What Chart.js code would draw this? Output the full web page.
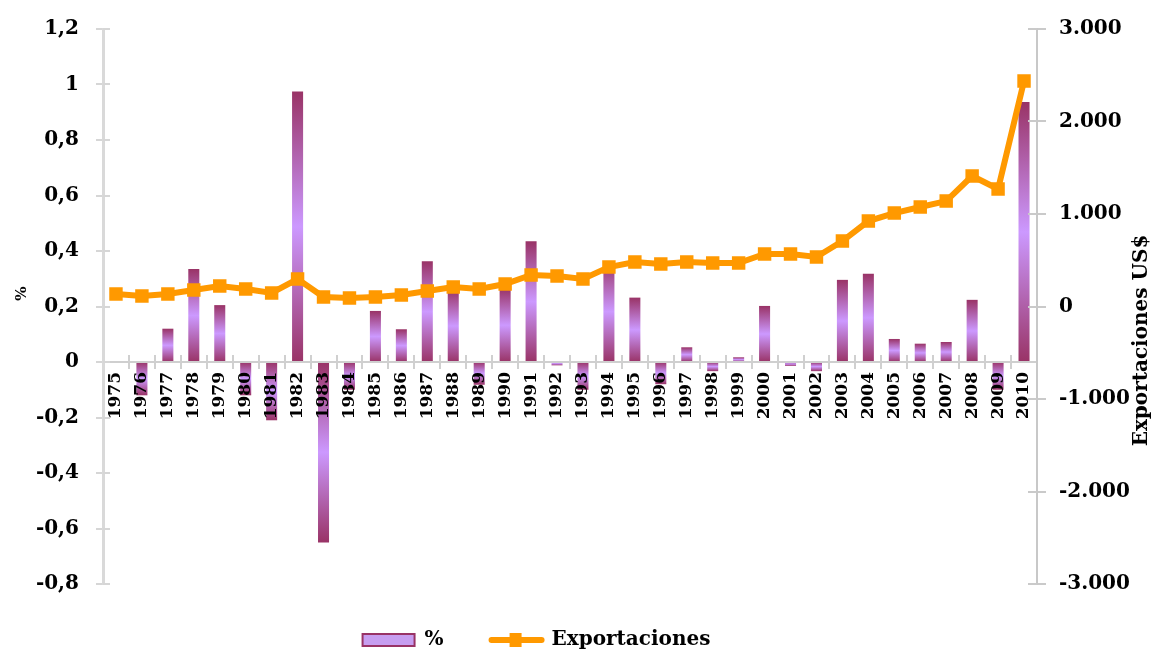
<!DOCTYPE html>
<html>
<head>
<meta charset="utf-8">
<script src="https://cdn.jsdelivr.net/npm/chart.js@4.4.1/dist/chart.umd.min.js"></script>
<style>
html,body{margin:0;padding:0;background:#ffffff;}
#wrap{width:1156px;height:653px;position:relative;}
</style>
</head>
<body>
<div id="wrap"><canvas id="c" width="1156" height="653"></canvas></div>
<script>
const years = ['1975','1976','1977','1978','1979','1980','1981','1982','1983','1984','1985','1986','1987','1988','1989','1990','1991','1992','1993','1994','1995','1996','1997','1998','1999','2000','2001','2002','2003','2004','2005','2006','2007','2008','2009','2010'];
const pctValues = [null,-0.12,0.12,0.335,0.205,-0.12,-0.21,0.975,-0.65,-0.10,0.184,0.118,0.363,0.26,-0.082,0.265,0.435,-0.012,-0.10,0.363,0.232,-0.08,0.053,-0.033,0.017,0.202,-0.014,-0.033,0.296,0.318,0.083,0.066,0.072,0.224,-0.10,0.937];
const exportValues = [135,114,135,178,222,189,146,297,103,92,103,124,168,211,189,243,341,330,297,427,481,459,481,470,470,568,568,535,708,924,1010,1076,1140,1411,1270,2438];
const leftTickLabels = ['-0,8','-0,6','-0,4','-0,2','0','0,2','0,4','0,6','0,8','1','1,2'];
const rightTickLabels = ['-3.000','-2.000','-1.000','0','1.000','2.000','3.000'];
const seriesNames = ['%','Exportaciones'];
const leftTitle = '%';
const rightTitle = 'Exportaciones US$';

const FONT = '"DejaVu Serif", "Liberation Serif", serif';
const DARK = '#993366', LIGHT = '#cc99ff', ORANGE = '#ff9900';

function barFill(ctx) {
  const chart = ctx.chart;
  const ys = chart.scales && chart.scales.y;
  if (ctx.type !== 'data' || !ys || ctx.raw == null) return '#c39ae6';
  const a = ys.getPixelForValue(0), b = ys.getPixelForValue(ctx.raw);
  const top = Math.min(a, b), bot = Math.max(a, b);
  if (!isFinite(top) || bot - top < 2) return '#b47ccf';
  const g = chart.ctx.createLinearGradient(0, top, 0, bot);
  g.addColorStop(0, DARK);
  g.addColorStop(0.5, LIGHT);
  g.addColorStop(1, DARK);
  return g;
}

const legendShift = {
  id: 'legendShift',
  afterLayout(chart) {
    if (chart.legend) { chart.legend.right -= 83; }
  }
};

const crossTicks = {
  id: 'crossTicks',
  afterDraw(chart) {
    const {ctx, chartArea, scales} = chart;
    const x = scales.x, y = scales.y, y1 = scales.y1;
    ctx.save();
    ctx.lineWidth = 2;
    ctx.strokeStyle = '#d6d6d6';
    y.ticks.forEach(t => {
      const py = Math.round(y.getPixelForValue(t.value));
      ctx.beginPath(); ctx.moveTo(chartArea.left, py); ctx.lineTo(chartArea.left + 7, py); ctx.stroke();
    });
    ctx.strokeStyle = '#cacaca';
    y1.ticks.forEach(t => {
      const py = Math.round(y1.getPixelForValue(t.value));
      ctx.beginPath(); ctx.moveTo(chartArea.right - 9, py); ctx.lineTo(chartArea.right, py); ctx.stroke();
    });
    ctx.strokeStyle = '#d0d0d0';
    const zy = y.getPixelForValue(0);
    for (let i = 1; i < years.length; i++) {
      const px = Math.round(x.getPixelForValue(i - 0.5));
      ctx.beginPath(); ctx.moveTo(px, zy - 7); ctx.lineTo(px, zy); ctx.stroke();
    }
    ctx.restore();
  }
};

const titlesAndLegend = {
  id: 'titlesAndLegend',
  afterDraw(chart) {
    const c = chart.ctx;
    const ca = chart.chartArea;
    c.save();
    c.fillStyle = '#000';
    c.textAlign = 'center';
    c.textBaseline = 'middle';
    c.font = 'bold 15px ' + FONT;
    c.save(); c.translate(22, (ca.top + ca.bottom) / 2 - 13); c.rotate(-Math.PI / 2); c.fillText(leftTitle, 0, 0); c.restore();
    c.font = 'bold 20px ' + FONT;
    c.save(); c.translate(1142, (ca.top + ca.bottom) / 2 + 34); c.rotate(-Math.PI / 2); c.fillText(rightTitle, 0, 0); c.restore();
    const lg = chart.legend;
    if (lg && lg.legendHitBoxes && lg.legendHitBoxes[1]) {
      const hb = lg.legendHitBoxes[1];
      const bw = lg.options.labels.boxWidth;
      const cy = hb.top + hb.height / 2;
      c.strokeStyle = ORANGE; c.lineWidth = 6; c.lineCap = 'round';
      c.beginPath(); c.moveTo(hb.left + 2, cy); c.lineTo(hb.left + bw, cy); c.stroke();
      c.fillStyle = ORANGE;
      c.fillRect(hb.left + bw / 2 - 6, cy - 7, 12, 14);
    }
    c.restore();
  }
};

new Chart(document.getElementById('c'), {
  data: {
    labels: years,
    datasets: [
      {
        type: 'bar',
        label: seriesNames[0],
        data: pctValues,
        yAxisID: 'y',
        backgroundColor: barFill,
        borderWidth: 0,
        categoryPercentage: 0.5,
        barPercentage: 0.85,
        order: 2
      },
      {
        type: 'line',
        label: seriesNames[1],
        data: exportValues,
        yAxisID: 'y1',
        borderColor: ORANGE,
        backgroundColor: ORANGE,
        borderWidth: 6,
        tension: 0,
        pointStyle: 'rect',
        pointRadius: 9.5,
        pointBackgroundColor: ORANGE,
        pointBorderWidth: 0,
        order: 1
      }
    ]
  },
  options: {
    responsive: false,
    animation: false,
    devicePixelRatio: 1,
    layout: { padding: { top: 29, right: 0, bottom: 0, left: 0 } },
    plugins: {
      tooltip: { enabled: false },
      legend: {
        position: 'bottom',
        maxHeight: 69,
        labels: {
          font: { family: FONT, size: 20, weight: 'bold' },
          color: '#000',
          boxWidth: 52,
          boxHeight: 12,
          padding: 46,
          generateLabels: () => [
            { text: seriesNames[0], fillStyle: '#c79ef0', strokeStyle: DARK, lineWidth: 2, hidden: false, datasetIndex: 0, fontColor: '#000' },
            { text: seriesNames[1], fillStyle: 'rgba(0,0,0,0)', strokeStyle: 'rgba(0,0,0,0)', lineWidth: 0, hidden: false, datasetIndex: 1, fontColor: '#000' }
          ]
        }
      }
    },
    scales: {
      x: {
        type: 'category',
        position: { y: 0 },
        offset: true,
        afterFit: s => { s.height = 0; },
        grid: { display: true, drawOnChartArea: false, drawTicks: true, tickLength: 6, color: '#d0d0d0', lineWidth: 2, offset: true },
        border: { display: true, color: '#cfcfcf', width: 2 },
        ticks: {
          z: 1,
          autoSkip: false,
          minRotation: 90,
          maxRotation: 90,
          padding: 4,
          color: '#000',
          font: { family: FONT, size: 17, weight: 'bold' }
        }
      },
      y: {
        type: 'linear',
        position: 'left',
        min: -0.8,
        max: 1.2,
        afterFit: s => { s.width = 103; },
        grid: { drawOnChartArea: false, drawTicks: true, tickLength: 7, color: '#d6d6d6', lineWidth: 2 },
        border: { display: true, color: '#d9d9d9', width: 3 },
        ticks: {
          stepSize: 0.2,
          padding: 17,
          color: '#000',
          font: { family: FONT, size: 20, weight: 'bold' },
          callback: (v, i) => leftTickLabels[i]
        }
      },
      y1: {
        type: 'linear',
        position: 'right',
        min: -3000,
        max: 3000,
        afterFit: s => { s.width = 119; },
        grid: { drawOnChartArea: false, drawTicks: true, tickLength: 9, color: '#cacaca', lineWidth: 2 },
        border: { display: true, color: '#c8c8c8', width: 2 },
        ticks: {
          stepSize: 1000,
          padding: 13,
          color: '#000',
          font: { family: FONT, size: 20, weight: 'bold' },
          callback: (v, i) => rightTickLabels[i]
        }
      }
    }
  },
  plugins: [legendShift, crossTicks, titlesAndLegend]
});
</script>
</body>
</html>
